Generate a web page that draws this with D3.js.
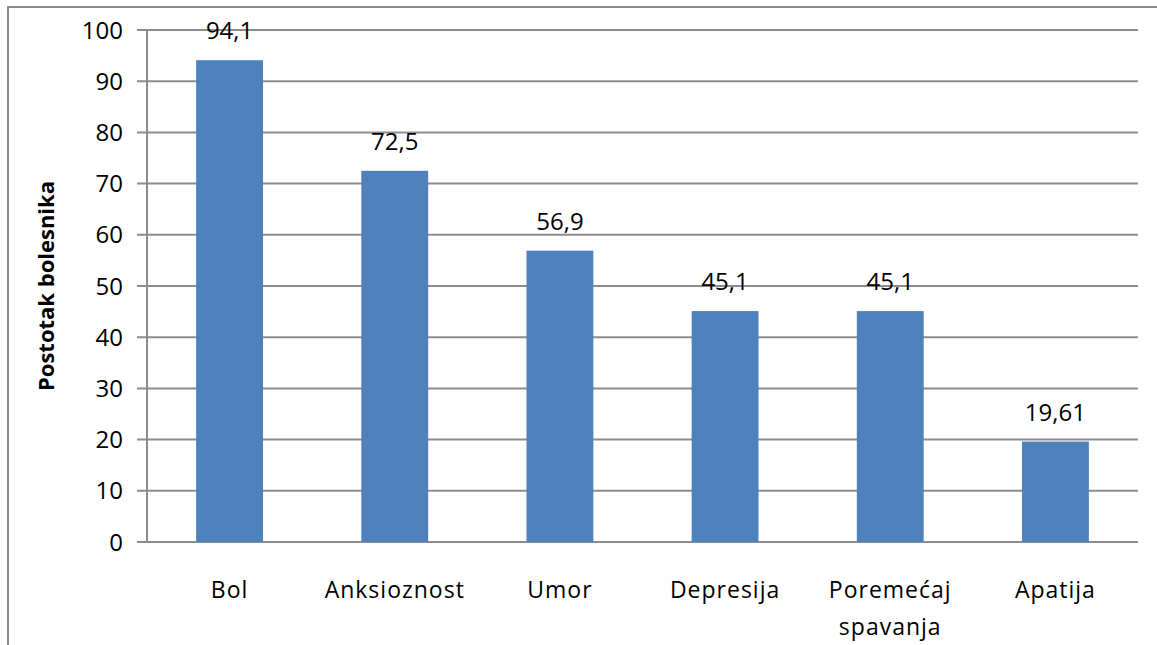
<!DOCTYPE html>
<html>
<head>
<meta charset="utf-8">
<script src="https://cdn.jsdelivr.net/npm/d3@7"></script>
<style>
  body { margin: 0; background: #fff; }
  svg { display: block; }
  text { font-family: "Open Sans", "Noto Sans", sans-serif; fill: #000; }
</style>
</head>
<body>
<svg id="barchart"></svg>
<script>
var categories = ["Bol", "Anksioznost", "Umor", "Depresija", "Poremećaj spavanja", "Apatija"];
var values = [94.1, 72.5, 56.9, 45.1, 45.1, 19.61];
var labels = ["94,1", "72,5", "56,9", "45,1", "45,1", "19,61"];
var yTicks = [0, 10, 20, 30, 40, 50, 60, 70, 80, 90, 100];
var yTitle = "Postotak bolesnika";

var dimensions = {
    width: 1157,
    height: 645,
    margin: { top: 30, bottom: 103, right: 19, left: 147 }
}

var svg = d3.select("#barchart")
    .attr("width", dimensions.width)
    .attr("height", dimensions.height)

// outer frame (cropped chart area border)
svg.append("path")
    .attr("d", "M8,645 L8,7 L1157,7")
    .attr("fill", "none")
    .attr("stroke", "#8c8c8c")
    .attr("stroke-width", 2)

var xScale = d3.scaleBand()
    .domain(categories)
    .range([dimensions.margin.left, dimensions.width - dimensions.margin.right])
    .paddingInner(0.595)
    .paddingOuter(0.2975)

var yScale = d3.scaleLinear()
    .domain([0, 100])
    .range([dimensions.height - dimensions.margin.bottom, dimensions.margin.top])

// gridlines
svg.append("g")
    .selectAll("line")
    .data(yTicks)
    .enter()
    .append("line")
    .attr("x1", dimensions.margin.left - 10)
    .attr("x2", dimensions.width - dimensions.margin.right)
    .attr("y1", function(d) { return yScale(d); })
    .attr("y2", function(d) { return yScale(d); })
    .attr("stroke", "#8c8c8c")
    .attr("stroke-width", 2)

// y axis line
svg.append("line")
    .attr("x1", dimensions.margin.left)
    .attr("x2", dimensions.margin.left)
    .attr("y1", yScale(100))
    .attr("y2", yScale(0))
    .attr("stroke", "#8c8c8c")
    .attr("stroke-width", 2)

// y tick labels
svg.append("g")
    .selectAll("text")
    .data(yTicks)
    .enter()
    .append("text")
    .attr("x", dimensions.margin.left - 24)
    .attr("y", function(d) { return yScale(d); })
    .attr("dy", "0.36em")
    .attr("text-anchor", "end")
    .style("font-size", "24px")
    .text(function(d) { return d; })

// bars
svg.append("g")
    .selectAll("rect")
    .data(values)
    .enter()
    .append("rect")
    .attr("x", function(d, i) { return xScale(categories[i]); })
    .attr("y", function(d) { return yScale(d); })
    .attr("width", xScale.bandwidth())
    .attr("height", function(d) { return yScale(0) - yScale(d); })
    .attr("fill", "#4f81bd")

// value labels
svg.append("g")
    .selectAll("text")
    .data(values)
    .enter()
    .append("text")
    .attr("x", function(d, i) { return xScale(categories[i]) + xScale.bandwidth() / 2; })
    .attr("y", function(d) { return yScale(d) - 21; })
    .attr("text-anchor", "middle")
    .style("font-size", "24px")
    .text(function(d, i) { return labels[i]; })

// category labels (wrap on space)
var catLabels = svg.append("g")
    .selectAll("text")
    .data(categories)
    .enter()
    .append("text")
    .attr("x", function(d) { return xScale(d) + xScale.bandwidth() / 2; })
    .attr("y", 598)
    .attr("text-anchor", "middle")
    .style("font-size", "23px")
    .style("letter-spacing", "1px")

catLabels.each(function(d) {
    var parts = d.split(" ");
    var el = d3.select(this);
    parts.forEach(function(p, j) {
        el.append("tspan")
            .attr("x", el.attr("x"))
            .attr("dy", j === 0 ? 0 : 37)
            .text(p);
    });
});

// y axis title
svg.append("text")
    .attr("transform", "translate(54," + ((yScale(0) + yScale(100)) / 2) + ") rotate(-90)")
    .attr("text-anchor", "middle")
    .style("font-size", "22px")
    .style("font-weight", "bold")
    .text(yTitle)
</script>
</body>
</html>
